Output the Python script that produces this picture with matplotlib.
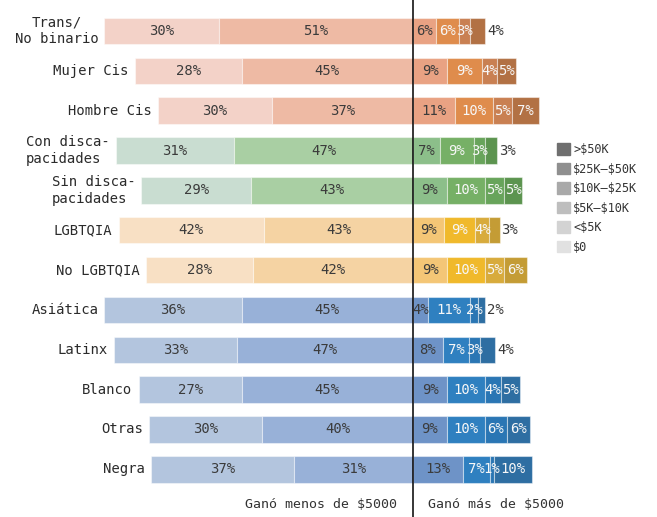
import matplotlib.pyplot as plt
import matplotlib.patches as mpatches
import numpy as np

plt.rcParams['font.family'] = ['DejaVu Sans Mono', 'DejaVu Sans']
plt.rcParams['text.parse_math'] = False

# -------------------------------
# Data (percent of each group)
# -------------------------------
groups = ["Trans/\nNo binario", "Mujer Cis", "Hombre Cis",
          "Con disca-\npacidades", "Sin disca-\npacidades",
          "LGBTQIA", "No LGBTQIA",
          "Asiática", "Latinx", "Blanco", "Otras", "Negra"]
pct_0 = [30, 28, 30, 31, 29, 42, 28, 36, 33, 27, 30, 37]
pct_lt5k = [51, 45, 37, 47, 43, 43, 42, 45, 47, 45, 40, 31]
pct_5_10 = [6, 9, 11, 7, 9, 9, 9, 4, 8, 9, 9, 13]
pct_10_25 = [6, 9, 10, 9, 10, 9, 10, 11, 7, 10, 10, 7]
pct_25_50 = [3, 4, 5, 3, 5, 4, 5, 2, 3, 4, 6, 1]
pct_gt50 = [4, 5, 7, 3, 5, 3, 6, 2, 4, 5, 6, 10]
income_labels = ["$0", "<$5K", "$5K–$10K", "$10K–$25K", "$25K–$50K", ">$50K"]
family = [0, 0, 0, 1, 1, 2, 2, 3, 3, 3, 3, 3]

# colour families: $0, <$5K, $5K-10K, $10K-25K, $25K-50K, >$50K
palettes = [
    ["#f3d2c8", "#eebaa4", "#e9a283", "#df8c4c", "#c98052", "#b27144"],  # genero
    ["#c9ddd1", "#a9cfa3", "#8cbf8a", "#76b066", "#68a45b", "#5c944f"],  # discapacidad
    ["#f8e0c4", "#f5d3a3", "#f4c676", "#f0b92b", "#d8ab3c", "#c49c35"],  # lgbtqia
    ["#b3c5de", "#98b1d8", "#6e93c7", "#2f80c0", "#2a76b4", "#2e6ea2"],  # raza
]
legend_grays = ["#e1e1e1", "#d3d3d3", "#bebebe", "#a9a9a9", "#8f8f8f", "#6f6f6f"]

# -------------------------------
# Plot
# -------------------------------
fig = plt.figure(figsize=(6.57, 5.17), dpi=100)
ax = fig.add_axes([0, 0, 1, 1])
ax.set_xlim(-108.4, 64.04)
ax.set_ylim(12.196, -0.778)
ax.axis("off")

bar_h = 0.665
dark = "#3b3b3b"
light = "#f7f7f7"

for i, g in enumerate(groups):
    vals = np.array([pct_0[i], pct_lt5k[i], pct_5_10[i],
                     pct_10_25[i], pct_25_50[i], pct_gt50[i]], dtype=float)
    w = vals / vals.sum() * 100
    cols = palettes[family[i]]
    lefts = [-(w[0] + w[1]), -w[1], 0, w[2], w[2] + w[3], w[2] + w[3] + w[4]]
    for k in range(6):
        ax.barh(i, w[k], left=lefts[k], height=bar_h, color=cols[k],
                edgecolor=(1, 1, 1, 0.45), linewidth=0.8)
        cx = lefts[k] + w[k] / 2
        tc = dark if k < 3 else light
        if k == 5 and vals[k] < 5:
            ax.text(lefts[k] + w[k] + 0.5, i, f"{vals[k]:.0f}%", ha="left",
                    va="center", fontsize=10, color=dark)
        else:
            ax.text(cx, i, f"{vals[k]:.0f}%", ha="center", va="center",
                    fontsize=10, color=tc)
    align = "center" if i == 0 else "left"
    ax.text(lefts[0] - 1.6, i, g, ha="right", va="center", fontsize=10,
            color="#2b2b2b", multialignment=align, linespacing=1.25)

ax.axvline(0, color="black", linewidth=1.1)

ax.text(-4.2, 11.89, "Ganó menos de $5000", ha="right", va="center",
        fontsize=9.5, color="#333333")
ax.text(3.9, 11.89, "Ganó más de $5000", ha="left", va="center",
        fontsize=9.5, color="#333333")

handles = [mpatches.Patch(color=legend_grays[k], label=income_labels[k])
           for k in range(5, -1, -1)]
ax.legend(handles=handles, loc="upper left", bbox_to_anchor=(0.838, 0.735),
          bbox_transform=fig.transFigure, frameon=False, fontsize=8.6,
          handlelength=1.1, handleheight=1.1, handletextpad=0.3,
          labelspacing=0.55, borderpad=0, labelcolor="#333333")

plt.savefig("out.png", dpi=100)
plt.close()
